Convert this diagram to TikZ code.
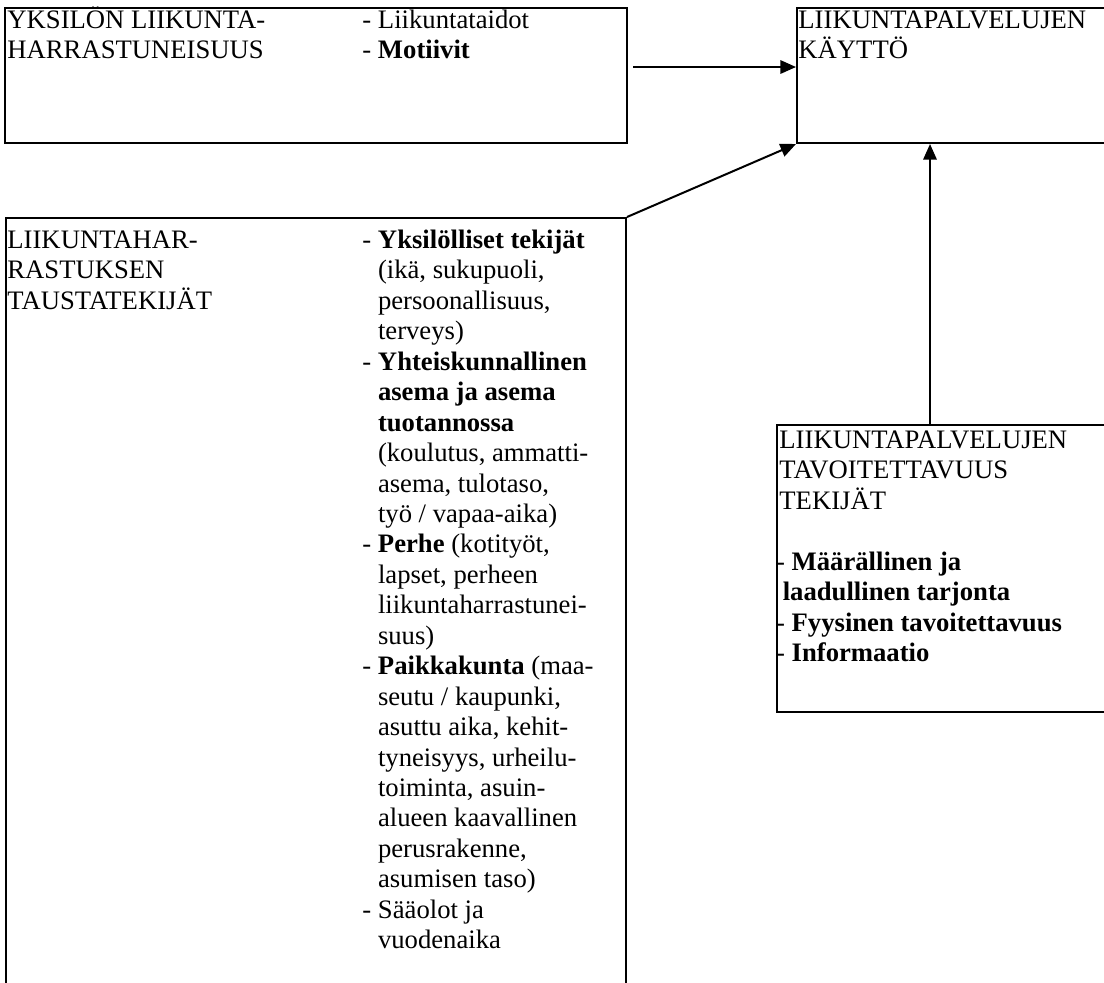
\documentclass[tikz,border=0pt]{standalone}
\usepackage{fontspec}
\setmainfont{Liberation Serif}
\usepackage{tikz}
\usetikzlibrary{arrows.meta,fit,calc}

% strut tall enough for capitals with umlauts on the first line
\newcommand{\tstrut}{\rule{0pt}{11pt}}
\newcommand{\ind}{\hspace*{7pt}}

\begin{document}
\begin{tikzpicture}[font=\fontsize{12}{13.7}\selectfont,x=0.45pt,y=-0.45pt]
\tikzset{
  box/.style={draw=black,line width=.9pt,inner sep=0pt},
  txt/.style={anchor=north west,inner sep=0pt,align=left},
  arr/.style={draw=black,line width=.9pt,-{Triangle[length=7pt,width=6pt]}}
}
\useasboundingbox (0,0) rectangle (1104,982);
\clip (0,0) rectangle (1104,982);

% four boxes; the right-hand ones run past the page edge as in the scan
\node[box,fit={(5,8) (627,143)}] (yks) {};
\node[box,fit={(797,8) (1140,143)}] (kay) {};
\node[box,fit={(6,218) (626,1010)}] (tau) {};
\node[box,fit={(777,425) (1140,712)}] (tav) {};

% texts (baseline minus 24.4 px gives the top of the strut)
\node[txt] (yksT) at (7,3.6) {\tstrut YKSILÖN LIIKUNTA-\\HARRASTUNEISUUS};
\node[txt] (yksL) at (362,3.6) {\tstrut - Liikuntataidot\\- \textbf{Motiivit}};
\node[txt] (kayT) at (798,3.6) {\tstrut LIIKUNTAPALVELUJEN\\KÄYTTÖ};

\node[txt] (tauT) at (7,223.6) {\tstrut LIIKUNTAHAR-\\RASTUKSEN\\TAUSTATEKIJÄT};
\node[txt] (tauL) at (362,223.6) {%
  \tstrut - \textbf{Yksilölliset tekijät}\\
  \ind(ikä, sukupuoli,\\
  \ind persoonallisuus,\\
  \ind terveys)\\
  - \textbf{Yhteiskunnallinen}\\
  \ind\textbf{asema ja asema}\\
  \ind\textbf{tuotannossa}\\
  \ind(koulutus, ammatti-\\
  \ind asema, tulotaso,\\
  \ind työ / vapaa-aika)\\
  - \textbf{Perhe} (kotityöt,\\
  \ind lapset, perheen\\
  \ind liikuntaharrastunei-\\
  \ind suus)\\
  - \textbf{Paikkakunta} (maa-\\
  \ind seutu / kaupunki,\\
  \ind asuttu aika, kehit-\\
  \ind tyneisyys, urheilu-\\
  \ind toiminta, asuin-\\
  \ind alueen kaavallinen\\
  \ind perusrakenne,\\
  \ind asumisen taso)\\
  - Sääolot ja\\
  \ind vuodenaika};

\node[txt] (tavT) at (779,423.6) {%
  \tstrut LIIKUNTAPALVELUJEN\\
  TAVOITETTAVUUS\\
  TEKIJÄT\\[13.7pt]
  \hspace*{-1.5pt}- \textbf{Määrällinen ja}\\
  \hspace*{1.5pt}\textbf{laadullinen tarjonta}\\
  \hspace*{-1.5pt}- \textbf{Fyysinen tavoitettavuus}\\
  \hspace*{-1.5pt}- \textbf{Informaatio}};

% connectors
\coordinate (a1) at (633,67);
\draw[arr] (a1) -- (a1 -| kay.west);
\draw[arr] (tau.north east) -- (kay.south west);
\draw[arr] ([xshift=69.3pt]tav.north west) -- ([xshift=69.3pt]tav.north west |- kay.south);
\end{tikzpicture}
\end{document}
